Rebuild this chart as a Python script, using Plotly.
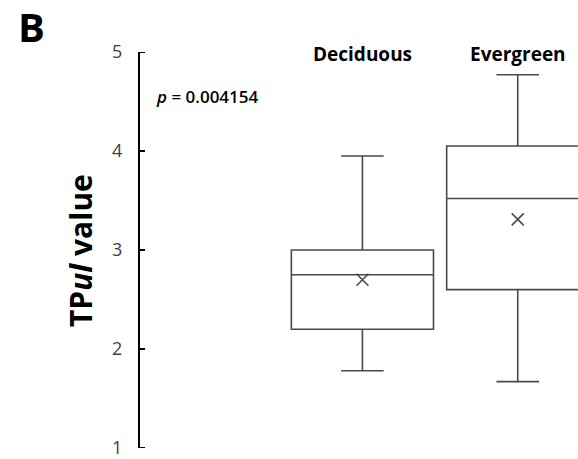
import plotly.graph_objects as go

# ---- data ----
categories = ["Deciduous", "Evergreen"]
q1_vals = [2.20, 2.60]
median_vals = [2.75, 3.52]
q3_vals = [3.00, 4.05]
lower_whisker = [1.78, 1.67]
upper_whisker = [3.95, 4.77]
mean_vals = [2.70, 3.31]
y_ticks = [1, 2, 3, 4, 5]
p_text = "<i>p</i> = 0.004154"

# ---- layout geometry ----
W, H = 578, 459
L, R, T, B = 140, 0, 52, 11
PW, PH = W - L - R, H - T - B

def px(x):
    return (x - L) / PW

def py(y):
    return (H - B - y) / PH

LINE = "#4a4a4a"
FONT = "Open Sans"
YRANGE = [min(y_ticks), max(y_ticks)]
TICK_LEN_PX = 5

fig = go.Figure()
for i, c in enumerate(categories):
    fig.add_trace(go.Box(
        x=[c], q1=[q1_vals[i]], median=[median_vals[i]], q3=[q3_vals[i]],
        lowerfence=[lower_whisker[i]], upperfence=[upper_whisker[i]],
        width=0.915, whiskerwidth=0.30,
        fillcolor="white", line=dict(color=LINE, width=1.6),
        boxpoints=False, showlegend=False, hoverinfo="skip",
    ))

fig.add_trace(go.Scatter(
    x=categories, y=mean_vals, mode="markers",
    marker=dict(symbol="x-thin", size=12, line=dict(color=LINE, width=1.6)),
    showlegend=False, hoverinfo="skip",
))

annotations = [
    dict(text="<b>B</b>", xref="paper", yref="paper", x=px(31), y=py(27),
         xanchor="center", yanchor="middle", showarrow=False,
         font=dict(family=FONT, size=40, color="black")),
    dict(text=p_text, xref="paper", yref="paper", x=px(154), y=py(96),
         xanchor="left", yanchor="middle", showarrow=False,
         font=dict(family=FONT, size=17, color="black", weight=600)),
    dict(text="<b>TP<i>ul</i> value</b>", xref="paper", yref="paper",
         x=px(80), y=py(251), textangle=-90, xanchor="center", yanchor="middle",
         showarrow=False, font=dict(family=FONT, size=30, color="black")),
]
for c in categories:
    annotations.append(dict(
        text="<b>%s</b>" % c, xref="x", yref="paper", x=c, y=py(54),
        xanchor="center", yanchor="middle", showarrow=False,
        font=dict(family=FONT, size=19, color="black")))

# inside tick marks on the y axis (pointing into the plot)
shapes = [
    dict(type="line", xref="paper", yref="y", x0=0, x1=TICK_LEN_PX / PW,
         y0=t, y1=t, line=dict(color="black", width=2), layer="above")
    for t in y_ticks
]

fig.update_layout(
    width=W, height=H,
    margin=dict(l=L, r=R, t=T, b=B, pad=0),
    paper_bgcolor="white", plot_bgcolor="white",
    annotations=annotations,
    shapes=shapes,
    xaxis=dict(type="category", range=[-1.432, 1.388], visible=False,
               showgrid=False, zeroline=False),
    yaxis=dict(range=YRANGE, tickvals=y_ticks, ticks="",
               showline=True, linecolor="black", linewidth=2,
               showgrid=False, zeroline=False,
               ticklabeloverflow="allow", ticklabelstandoff=12,
               tickfont=dict(family=FONT, size=18, color="#404040")),
)

fig.write_html("out.html")
